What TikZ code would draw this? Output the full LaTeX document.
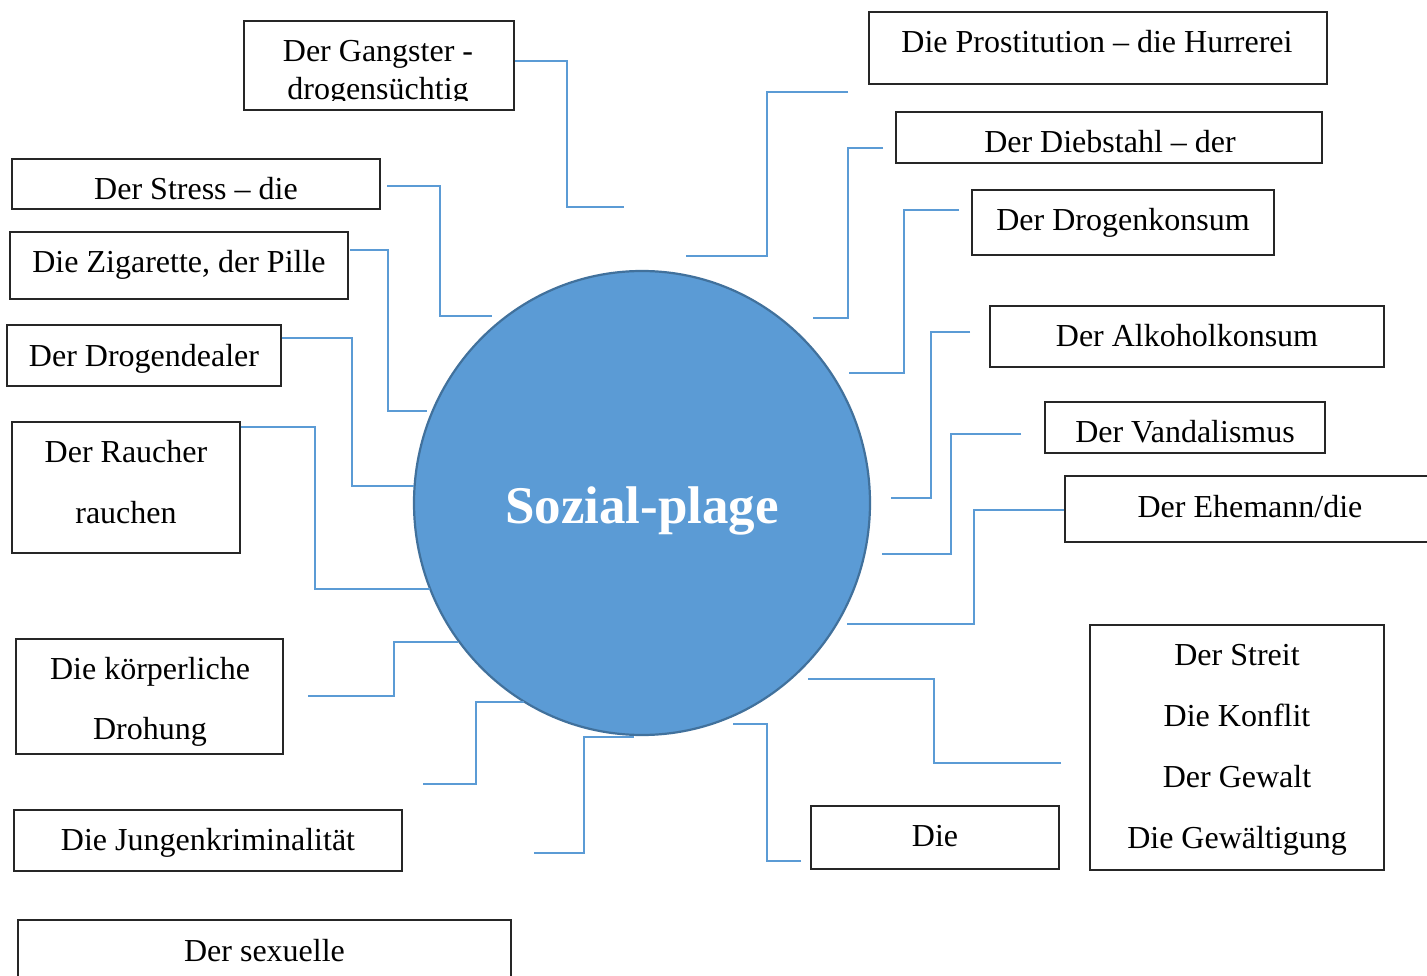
\documentclass[tikz,border=0pt]{standalone}
\usepackage{fontspec}
\setmainfont{Liberation Serif}
\usetikzlibrary{shapes.geometric}
\definecolor{linkblue}{HTML}{5B9BD5}
\definecolor{discfill}{HTML}{5B9BD5}
\definecolor{discedge}{HTML}{41719C}
\definecolor{boxline}{HTML}{262626}
\tikzset{
  box/.style={draw=boxline, line width=1.4pt, inner sep=0pt},
  lbl/.style={anchor=base, inner sep=0pt, font=\fontsize{32}{38}\selectfont},
  link/.style={draw=linkblue, line width=1.5pt},
  disc/.style={ellipse, draw=discedge, line width=2.2pt, fill=discfill, inner sep=0pt},
}
\begin{document}
\begin{tikzpicture}[x=1pt,y=-1pt]
\clip (0,0) rectangle (1427,976);
\fill[white] (0,0) rectangle (1427,976);

% central disc
\node[disc, minimum width=456, minimum height=464] (plage) at (642,503) {};
\node[anchor=base, inner sep=0pt, text=white, font=\fontsize{53}{60}\selectfont\bfseries] (plagetext) at (642,523) {Sozial-plage};

% boxes
\node[box, minimum width=270, minimum height=89]  (gangster) at (379,65.5) {};
\node[box, minimum width=458, minimum height=72]  (prost)    at (1098,48) {};
\node[box, minimum width=426, minimum height=51]  (dieb)     at (1109,137.5) {};
\node[box, minimum width=302, minimum height=65]  (drogenk)  at (1123,222.5) {};
\node[box, minimum width=394, minimum height=61]  (alkohol)  at (1187,336.5) {};
\node[box, minimum width=280, minimum height=51]  (vandal)   at (1185,427.5) {};
\node[box, minimum width=370, minimum height=66]  (ehemann)  at (1250,509) {};
\node[box, minimum width=294, minimum height=245] (streit)   at (1237,747.5) {};
\node[box, minimum width=248, minimum height=63]  (die)      at (935,837.5) {};
\node[box, minimum width=368, minimum height=50]  (stress)   at (196,184) {};
\node[box, minimum width=338, minimum height=67]  (zig)      at (179,265.5) {};
\node[box, minimum width=274, minimum height=61]  (dealer)   at (144,355.5) {};
\node[box, minimum width=228, minimum height=131] (raucher)  at (126,487.5) {};
\node[box, minimum width=267, minimum height=115] (koerper)  at (149.5,696.5) {};
\node[box, minimum width=388, minimum height=61]  (jungen)   at (208,840.5) {};
\node[box, minimum width=493, minimum height=80]  (sexuell)  at (264.5,960) {};

% labels
\begin{scope}
  \clip (245,22) rectangle (513,101);
  \node[lbl] (gangster1) at (378,61.5) {Der Gangster -};
  \node[lbl] (gangster2) at (378,99.5) {drogensüchtig};
\end{scope}
\node[lbl] (prostt)   at (1097,52.5)  {Die Prostitution – die Hurrerei};
\node[lbl] (diebt)    at (1110,152.5) {Der Diebstahl – der};
\node[lbl] (drogenkt) at (1123,230.5) {Der Drogenkonsum};
\node[lbl] (alkoholt) at (1187,346.5) {Der Alkoholkonsum};
\node[lbl] (vandalt)  at (1185,442.5) {Der Vandalismus};
\node[lbl] (ehemannt) at (1250,517.5) {Der Ehemann/die};
\node[lbl] (streit1)  at (1237,665.5) {Der Streit};
\node[lbl] (streit2)  at (1237,726.5) {Die Konflit};
\node[lbl] (streit3)  at (1237,787.5) {Der Gewalt};
\node[lbl] (streit4)  at (1237,848.5) {Die Gewältigung};
\node[lbl] (diet)     at (935,846.5)  {Die};
\node[lbl] (stresst)  at (196,199.5)  {Der Stress – die};
\node[lbl] (zigt)     at (179,272.5)  {Die Zigarette, der Pille};
\node[lbl] (dealert)  at (144,366.5)  {Der Drogendealer};
\node[lbl] (raucher1) at (126,462.5)  {Der Raucher};
\node[lbl] (raucher2) at (126,523.5)  {rauchen};
\node[lbl] (koerper1) at (150,679.5)  {Die körperliche};
\node[lbl] (koerper2) at (150,739.5)  {Drohung};
\node[lbl] (jungent)  at (208,850.5)  {Die Jungenkriminalität};
\node[lbl] (sexuellt) at (264.5,961.5) {Der sexuelle};

% free connector ends
\coordinate (sA) at (387,186);  \coordinate (eA) at (492,316);
\coordinate (sB) at (350,250);  \coordinate (eB) at (427,411);
\coordinate (eC) at (414,486);
\coordinate (eD) at (430,589);
\coordinate (sE) at (308,696);  \coordinate (eE) at (458,642);
\coordinate (sF) at (423,784);  \coordinate (eF) at (524,702);
\coordinate (sG) at (534,853);  \coordinate (eG) at (634,737);
\coordinate (sH) at (801,861);  \coordinate (eH) at (733,724);
\coordinate (sI) at (1061,763); \coordinate (eI) at (808,679);
\coordinate (eJ) at (847,624);
\coordinate (sK) at (1021,434); \coordinate (eK) at (882,554);
\coordinate (sL) at (970,332);  \coordinate (eL) at (891,498);
\coordinate (sM) at (959,210);  \coordinate (eM) at (849,373);
\coordinate (sN) at (883,148);  \coordinate (eN) at (813,318);
\coordinate (sP) at (848,92);   \coordinate (eP) at (686,256);
\coordinate (eQ) at (624,207);

% elbow connectors
\draw[link] ([yshift=4.5pt]gangster.east) -| (567,207) -- (eQ);
\draw[link] (sA) -| (440,316) -- (eA);
\draw[link] (sB) -| (388,411) -- (eB);
\draw[link] ([yshift=17.5pt]dealer.east) -| (352,486) -- (eC);
\draw[link] ([yshift=60.5pt]raucher.east) -| (315,589) -- (eD);
\draw[link] (sE) -| (394,642) -- (eE);
\draw[link] (sF) -| (476,702) -- (eF);
\draw[link] (sG) -| (584,737) -- (eG);
\draw[link] (sH) -| (767,724) -- (eH);
\draw[link] (sI) -| (934,679) -- (eI);
\draw[link] ([yshift=-1pt]ehemann.west) -| (974,624) -- (eJ);
\draw[link] (sK) -| (951,554) -- (eK);
\draw[link] (sL) -| (931,498) -- (eL);
\draw[link] (sM) -| (904,373) -- (eM);
\draw[link] (sN) -| (848,318) -- (eN);
\draw[link] (sP) -| (767,256) -- (eP);
\end{tikzpicture}
\end{document}
